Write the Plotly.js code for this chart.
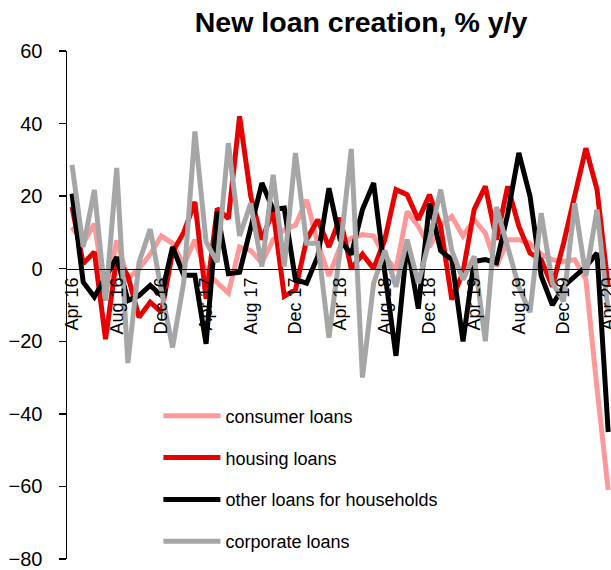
<!DOCTYPE html>
<html>
<head>
<meta charset="utf-8">
<script src="https://cdn.plot.ly/plotly-3.0.1.min.js"></script>
<style>html,body{margin:0;padding:0;background:#fff;}#chart{width:611px;height:570px;}</style>
</head>
<body>
<div id="chart"></div>
<script>
const months = ["Apr 16","May 16","Jun 16","Jul 16","Aug 16","Sep 16","Oct 16","Nov 16","Dec 16",
  "Jan 17","Feb 17","Mar 17","Apr 17","May 17","Jun 17","Jul 17","Aug 17","Sep 17","Oct 17","Nov 17","Dec 17",
  "Jan 18","Feb 18","Mar 18","Apr 18","May 18","Jun 18","Jul 18","Aug 18","Sep 18","Oct 18","Nov 18","Dec 18",
  "Jan 19","Feb 19","Mar 19","Apr 19","May 19","Jun 19","Jul 19","Aug 19","Sep 19","Oct 19","Nov 19","Dec 19",
  "Jan 20","Feb 20","Mar 20","Apr 20"];
const tickLabels = ["Apr 16","Aug 16","Dec 16","Apr 17","Aug 17","Dec 17","Apr 18","Aug 18","Dec 18","Apr 19","Aug 19","Dec 19","Apr 20"];

const consumerLoans = [11.5,7,12.4,-7.4,7.8,-2.8,0,4,9,7,1,8,-1,-4,-6.7,6,5,1.6,8,10.7,12,19,7,-2,6,8.4,9.4,9,3.4,-0.3,15.8,11.7,6,12,14.4,9,13.5,9.8,0.6,8,8,7,4,2.5,2,2.5,-3,-33,-61];
const housingLoans = [17,1.4,4.6,-19.4,3,-2,-13.4,-9.2,-12,4.6,10,18.4,-8.3,16.6,13.8,42,20,8,16,-7.6,-5.8,8,13.5,6,14,0,4,0,8,21.8,20.4,13.5,20.4,11.7,-8.5,-1,16.3,22.7,8,22.7,11.7,4.3,2.5,-4.9,7,20,33.2,21.8,-5];
const otherHousehold = [20.7,-3.7,-7.8,-2.3,3.2,-8.8,-7.4,-4.6,-7.4,6,-1.8,-1.8,-20.7,15.7,-1.4,-1,12,23.6,16.3,16.7,-3,-4,3.4,22.2,8,3.9,16.3,23.6,-1,-24,7,-11,18,5,2.5,-20,2,2.5,1.6,15,31.9,20,-2,-10,-4.9,-2,0.6,4.3,-45];
const corporateLoans = [28.6,6,21.7,-8.8,27.8,-26,1.8,10.9,-6,-21.7,-3.7,37.8,7.4,1.8,34.6,9,18,0.6,25.9,0.6,31.9,7,7,-19,5,33,-30,-4,5,-5,8,-4,8,21.8,5,-3,3.4,-20,17,6,-5,-12,15.3,-4,-9,18,-2,16.3,-12];

const seriesNames = ["consumer loans","housing loans","other loans for households","corporate loans"];
const seriesData = [consumerLoans, housingLoans, otherHousehold, corporateLoans];
const seriesColors = ["#FF9999","#E60000","#000000","#A6A6A6"];

const traces = seriesData.map((d, k) => ({
  type: "scatter", mode: "lines", x: months, y: d, name: seriesNames[k],
  legendgroup: "g" + k,
  line: {color: seriesColors[k], width: 5, shape: "linear"},
  hoverinfo: "skip"
}));

const layout = {
  width: 611, height: 570,
  margin: {l: 67, r: 0, t: 51, b: 11, pad: 0},
  paper_bgcolor: "#ffffff", plot_bgcolor: "rgba(0,0,0,0)",
  font: {family: "Liberation Sans, Arial, sans-serif", color: "#000", size: 18},
  title: {text: "<b>New loan creation, % y/y</b>", font: {size: 28.5, color: "#000"},
          x: 0.591, xanchor: "center", xref: "container", y: 0.962, yanchor: "middle", yref: "container"},
  showlegend: true,
  legend: {x: 0.168, xanchor: "left", y: 0.318, yanchor: "top", bgcolor: "rgba(0,0,0,0)",
           font: {size: 18, color: "#000"}, itemwidth: 57, traceorder: "grouped", tracegroupgap: 15.5},
  xaxis: {type: "category", range: [-0.45, 48.25], anchor: "free", position: 80/140,
          tickmode: "array", tickvals: tickLabels, ticktext: tickLabels, tickangle: -90,
          tickfont: {size: 18}, ticks: "", showline: true, linecolor: "#000", linewidth: 1.5,
          showgrid: false, zeroline: false, fixedrange: true},
  yaxis: {range: [-80, 60], tickmode: "linear", tick0: -80, dtick: 20, ticks: "outside", ticklen: 7,
          tickwidth: 1.5, tickcolor: "#000", showline: true, linecolor: "#000", linewidth: 1.5,
          ticklabelstandoff: 12,
          showgrid: false, zeroline: false, tickfont: {size: 20}, fixedrange: true}
};

Plotly.newPlot("chart", traces, layout, {staticPlot: true, displayModeBar: false});
</script>
</body>
</html>
